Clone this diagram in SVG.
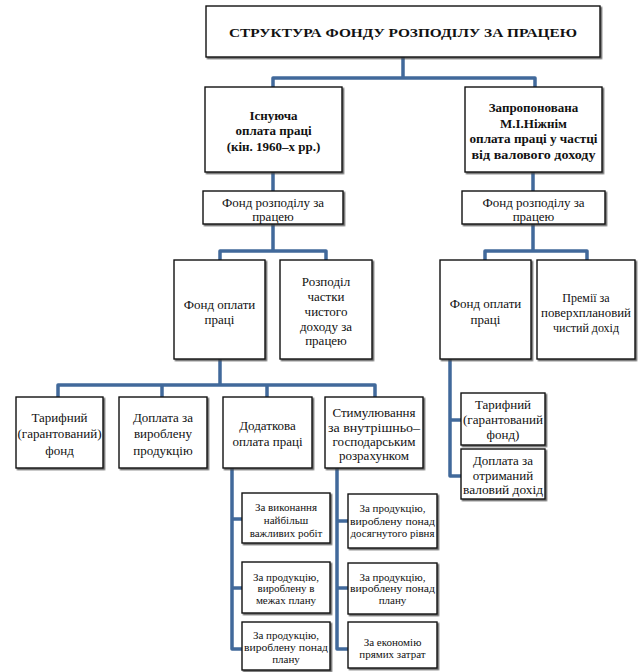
<svg xmlns="http://www.w3.org/2000/svg" width="638" height="672" viewBox="0 0 638 672" font-family="'Liberation Serif', 'DejaVu Serif', serif">
<style>
.box{fill:#fff;stroke:#111;stroke-width:1.4;filter:url(#sh)}
.t{font-family:'Liberation Serif','DejaVu Serif',serif;font-size:13px;fill:#111;text-anchor:middle;dominant-baseline:central}
.b{font-weight:bold}
.s{font-size:11px}
.m{font-size:12px}
.c{fill:none;stroke:#41699b;stroke-width:3.5;stroke-linejoin:round}
</style>
<defs>
<filter id="sh" x="-10%" y="-10%" width="120%" height="120%">
<feDropShadow dx="1.5" dy="1.5" stdDeviation="0.4" flood-color="#444" flood-opacity="0.8"/>
</filter>
</defs>
<rect width="638" height="672" fill="#fff"/>
<g id="connectors">
<path class="c" d="M403,57 V78 M273,87 V78 H535 V87"/>
<path class="c" d="M273,172 V191 M533,172 V191"/>
<path class="c" d="M273,224 V251 M220,260 V251 H326 V260"/>
<path class="c" d="M533,224 V251 M485,260 V251 H587 V260"/>
<path class="c" d="M220,359 V385 M58,397 V385 H375 V397 M162,385 V397 M267,385 V397"/>
<path class="c" d="M232,468 V649 H242 M232,519 H242 M232,588 H242"/>
<path class="c" d="M337,468 V649 H348 M337,521 H348 M337,588 H348"/>
<path class="c" d="M450,359 V476 H461 M450,420 H461"/>
</g>
<g id="title">
<rect class="box" x="206" y="6" width="394" height="51"/>
<text class="t b" x="403" y="32" font-size="17" textLength="348" lengthAdjust="spacingAndGlyphs">СТРУКТУРА ФОНДУ РОЗПОДІЛУ ЗА ПРАЦЕЮ</text>
</g>
<g id="existing">
<rect class="box" x="205" y="87" width="137" height="85"/>
<text class="t b" x="273.5" y="115">Існуюча</text>
<text class="t b" x="273.5" y="130">оплата праці</text>
<text class="t b" x="273.5" y="146">(кін. 1960–х рр.)</text>
</g>
<g id="proposed">
<rect class="box" x="465" y="87" width="137" height="85"/>
<text class="t b" x="533.5" y="107">Запропонована</text>
<text class="t b" x="533.5" y="123">М.І.Ніжнім</text>
<text class="t b" x="533.5" y="138" textLength="128" lengthAdjust="spacingAndGlyphs">оплата праці у частці</text>
<text class="t b" x="533.5" y="154" textLength="124" lengthAdjust="spacingAndGlyphs">від валового доходу</text>
</g>
<g id="fund-left">
<rect class="box" x="203" y="191" width="140" height="33"/>
<text class="t" x="273" y="202">Фонд розподілу за</text>
<text class="t" x="273" y="216">працею</text>
</g>
<g id="fund-right">
<rect class="box" x="462" y="191" width="143" height="33"/>
<text class="t" x="533.5" y="202">Фонд розподілу за</text>
<text class="t" x="533.5" y="216">працею</text>
</g>
<g id="wage-fund-left">
<rect class="box" x="174" y="260" width="91" height="99"/>
<text class="t" x="219.5" y="304">Фонд оплати</text>
<text class="t" x="219.5" y="319">праці</text>
</g>
<g id="distribution">
<rect class="box" x="280" y="260" width="92" height="99"/>
<text class="t" x="326" y="281">Розподіл</text>
<text class="t" x="326" y="296">частки</text>
<text class="t" x="326" y="311">чистого</text>
<text class="t" x="326" y="326">доходу за</text>
<text class="t" x="326" y="340">працею</text>
</g>
<g id="wage-fund-right">
<rect class="box" x="440" y="260" width="91" height="99"/>
<text class="t" x="485.5" y="303">Фонд оплати</text>
<text class="t" x="485.5" y="319">праці</text>
</g>
<g id="bonus">
<rect class="box" x="537" y="260" width="98" height="99"/>
<text class="t m" x="586" y="298">Премії за</text>
<text class="t m" x="586" y="313" textLength="90" lengthAdjust="spacingAndGlyphs">поверхплановий</text>
<text class="t m" x="586" y="328">чистий дохід</text>
</g>
<g id="tariff-left">
<rect class="box" x="16" y="397" width="87" height="71"/>
<text class="t" x="59.5" y="417">Тарифний</text>
<text class="t" x="59.5" y="433" textLength="84" lengthAdjust="spacingAndGlyphs">(гарантований)</text>
<text class="t" x="59.5" y="450">фонд</text>
</g>
<g id="surcharge-left">
<rect class="box" x="119" y="397" width="88" height="71"/>
<text class="t" x="163" y="417">Доплата за</text>
<text class="t" x="163" y="433">вироблену</text>
<text class="t" x="163" y="450">продукцію</text>
</g>
<g id="additional">
<rect class="box" x="223" y="397" width="89" height="71"/>
<text class="t" x="267.5" y="425">Додаткова</text>
<text class="t" x="267.5" y="441">оплата праці</text>
</g>
<g id="stimulation">
<rect class="box" x="325" y="397" width="98" height="71"/>
<text class="t" x="374" y="412">Стимулювання</text>
<text class="t" x="374" y="427" textLength="92" lengthAdjust="spacingAndGlyphs">за внутрішньо–</text>
<text class="t" x="374" y="441">господарським</text>
<text class="t" x="374" y="455">розрахунком</text>
</g>
<g id="add-1">
<rect class="box" x="242" y="493" width="88" height="50"/>
<text class="t s" x="286" y="507">За виконання</text>
<text class="t s" x="286" y="520">найбільш</text>
<text class="t s" x="286" y="533">важливих робіт</text>
</g>
<g id="add-2">
<rect class="box" x="242" y="562" width="88" height="51"/>
<text class="t s" x="286" y="577">За продукцію,</text>
<text class="t s" x="286" y="588">вироблену в</text>
<text class="t s" x="286" y="600">межах плану</text>
</g>
<g id="add-3">
<rect class="box" x="242" y="622" width="88" height="48"/>
<text class="t s" x="286" y="635">За продукцію,</text>
<text class="t s" x="286" y="647" textLength="84" lengthAdjust="spacingAndGlyphs">вироблену понад</text>
<text class="t s" x="286" y="659">плану</text>
</g>
<g id="stim-1">
<rect class="box" x="348" y="494" width="89" height="54"/>
<text class="t s" x="392.5" y="508">За продукцію,</text>
<text class="t s" x="392.5" y="521" textLength="85" lengthAdjust="spacingAndGlyphs">вироблену понад</text>
<text class="t s" x="392.5" y="533" textLength="84" lengthAdjust="spacingAndGlyphs">досягнутого рівня</text>
</g>
<g id="stim-2">
<rect class="box" x="348" y="563" width="89" height="51"/>
<text class="t s" x="392.5" y="577">За продукцію,</text>
<text class="t s" x="392.5" y="588" textLength="85" lengthAdjust="spacingAndGlyphs">вироблену понад</text>
<text class="t s" x="392.5" y="600">плану</text>
</g>
<g id="stim-3">
<rect class="box" x="348" y="622" width="89" height="46"/>
<text class="t s" x="392.5" y="642">За економію</text>
<text class="t s" x="392.5" y="654">прямих затрат</text>
</g>
<g id="tariff-right">
<rect class="box" x="461" y="393" width="84" height="52"/>
<text class="t" x="503" y="404">Тарифний</text>
<text class="t" x="503" y="419" textLength="80" lengthAdjust="spacingAndGlyphs">(гарантований</text>
<text class="t" x="503" y="434">фонд)</text>
</g>
<g id="surcharge-right">
<rect class="box" x="461" y="449" width="84" height="50"/>
<text class="t" x="503" y="460">Доплата за</text>
<text class="t" x="503" y="475">отриманий</text>
<text class="t" x="503" y="489" textLength="80" lengthAdjust="spacingAndGlyphs">валовий дохід</text>
</g>
</svg>
